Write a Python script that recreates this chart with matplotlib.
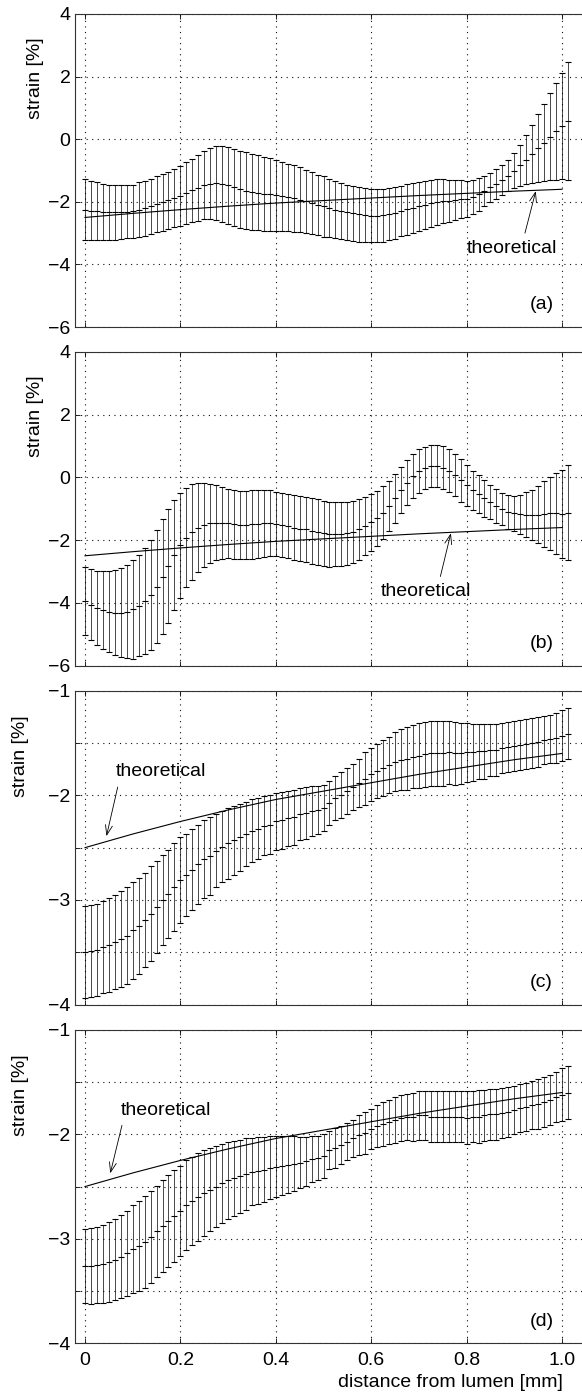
import matplotlib.pyplot as plt
import numpy as np

plt.rcParams['font.family'] = ['Liberation Sans', 'DejaVu Sans']
plt.rcParams['font.size'] = 14
plt.rcParams['axes.unicode_minus'] = True

# sample positions through the wall, 0.0125 mm apart
x = np.arange(82) * 0.0125

# theoretical strain profile
theo_x = [0.0, 0.1, 0.2, 0.3, 0.4, 0.5, 0.6, 0.7, 0.8, 0.9, 1.0]
theo_y = [-2.50, -2.37, -2.25, -2.14, -2.04, -1.96, -1.88, -1.80, -1.73, -1.66, -1.60]

# measured strain: mean and standard deviation per position
mean_a = [-2.25, -2.28, -2.30, -2.32, -2.34, -2.34, -2.33, -2.32, -2.30, -2.25,
          -2.20, -2.15, -2.08, -2.02, -1.95, -1.89, -1.81, -1.72, -1.63, -1.55,
          -1.47, -1.42, -1.40, -1.42, -1.47, -1.54, -1.60, -1.64, -1.68, -1.71,
          -1.74, -1.76, -1.79, -1.83, -1.86, -1.89, -1.94, -1.99, -2.05, -2.10,
          -2.15, -2.20, -2.25, -2.29, -2.34, -2.37, -2.40, -2.43, -2.44, -2.45,
          -2.43, -2.39, -2.35, -2.29, -2.24, -2.19, -2.14, -2.09, -2.05, -2.01,
          -1.98, -1.96, -1.94, -1.92, -1.90, -1.84, -1.76, -1.65, -1.54, -1.43,
          -1.31, -1.17, -1.01, -0.84, -0.65, -0.47, -0.28, -0.11, 0.08, 0.25,
          0.41, 0.58]
sd_a = [0.97, 0.95, 0.92, 0.90, 0.89, 0.88, 0.86, 0.85, 0.85, 0.87,
        0.88, 0.89, 0.90, 0.91, 0.91, 0.93, 0.95, 0.98, 1.01, 1.05,
        1.09, 1.13, 1.17, 1.21, 1.23, 1.23, 1.23, 1.23, 1.22, 1.20,
        1.18, 1.16, 1.13, 1.11, 1.08, 1.06, 1.04, 1.01, 0.99, 0.97,
        0.96, 0.94, 0.92, 0.90, 0.89, 0.88, 0.87, 0.86, 0.85, 0.85,
        0.84, 0.83, 0.83, 0.81, 0.81, 0.80, 0.78, 0.77, 0.75, 0.73,
        0.70, 0.67, 0.64, 0.61, 0.58, 0.54, 0.52, 0.49, 0.47, 0.47,
        0.48, 0.50, 0.56, 0.65, 0.78, 0.92, 1.08, 1.23, 1.39, 1.54,
        1.69, 1.88]

mean_b = [-3.94, -4.06, -4.17, -4.24, -4.29, -4.32, -4.31, -4.28, -4.21, -4.09,
          -3.94, -3.75, -3.49, -3.17, -2.84, -2.48, -2.17, -1.92, -1.74, -1.60,
          -1.51, -1.46, -1.44, -1.45, -1.47, -1.50, -1.52, -1.52, -1.50, -1.48,
          -1.47, -1.46, -1.48, -1.51, -1.55, -1.60, -1.63, -1.66, -1.70, -1.74,
          -1.78, -1.81, -1.82, -1.81, -1.78, -1.73, -1.65, -1.55, -1.43, -1.31,
          -1.12, -0.90, -0.67, -0.41, -0.17, 0.04, 0.20, 0.31, 0.36, 0.36,
          0.31, 0.22, 0.08, -0.09, -0.25, -0.41, -0.53, -0.67, -0.79, -0.91,
          -1.01, -1.10, -1.15, -1.18, -1.19, -1.20, -1.19, -1.17, -1.14, -1.14,
          -1.16, -1.13]
sd_b = [1.09, 1.13, 1.19, 1.24, 1.29, 1.36, 1.43, 1.49, 1.57, 1.62,
        1.70, 1.76, 1.80, 1.83, 1.82, 1.76, 1.68, 1.59, 1.52, 1.42,
        1.34, 1.26, 1.20, 1.14, 1.10, 1.09, 1.09, 1.09, 1.09, 1.08,
        1.07, 1.05, 1.03, 1.02, 1.02, 1.03, 1.04, 1.04, 1.05, 1.04,
        1.04, 1.04, 1.02, 1.01, 1.00, 0.99, 0.97, 0.94, 0.91, 0.89,
        0.84, 0.80, 0.77, 0.74, 0.72, 0.70, 0.69, 0.67, 0.67, 0.68,
        0.69, 0.70, 0.68, 0.68, 0.65, 0.63, 0.62, 0.58, 0.55, 0.53,
        0.51, 0.53, 0.55, 0.61, 0.72, 0.81, 0.91, 1.04, 1.16, 1.29,
        1.40, 1.52]

mean_c = [-3.50, -3.49, -3.48, -3.45, -3.43, -3.40, -3.37, -3.34, -3.29, -3.25,
          -3.19, -3.13, -3.07, -3.00, -2.94, -2.88, -2.81, -2.76, -2.71, -2.66,
          -2.61, -2.58, -2.53, -2.49, -2.46, -2.43, -2.40, -2.37, -2.34, -2.32,
          -2.29, -2.28, -2.25, -2.24, -2.22, -2.21, -2.18, -2.17, -2.15, -2.14,
          -2.12, -2.07, -2.03, -2.00, -1.96, -1.92, -1.88, -1.84, -1.80, -1.77,
          -1.74, -1.71, -1.68, -1.66, -1.65, -1.63, -1.62, -1.61, -1.60, -1.60,
          -1.60, -1.59, -1.60, -1.60, -1.59, -1.59, -1.58, -1.58, -1.57, -1.57,
          -1.55, -1.54, -1.53, -1.52, -1.51, -1.50, -1.49, -1.47, -1.46, -1.45,
          -1.43, -1.41]
sd_c = [0.44, 0.44, 0.44, 0.44, 0.45, 0.45, 0.46, 0.46, 0.46, 0.46,
        0.45, 0.45, 0.44, 0.43, 0.42, 0.42, 0.41, 0.39, 0.39, 0.38,
        0.37, 0.37, 0.35, 0.34, 0.34, 0.33, 0.32, 0.31, 0.30, 0.29,
        0.28, 0.28, 0.27, 0.27, 0.26, 0.26, 0.25, 0.25, 0.24, 0.23,
        0.22, 0.21, 0.21, 0.22, 0.22, 0.22, 0.23, 0.25, 0.25, 0.26,
        0.27, 0.27, 0.28, 0.29, 0.30, 0.30, 0.31, 0.31, 0.31, 0.31,
        0.31, 0.30, 0.30, 0.29, 0.28, 0.27, 0.26, 0.26, 0.25, 0.25,
        0.24, 0.24, 0.24, 0.24, 0.24, 0.24, 0.24, 0.23, 0.23, 0.24,
        0.24, 0.24]

mean_d = [-3.26, -3.26, -3.25, -3.24, -3.22, -3.20, -3.17, -3.14, -3.10, -3.07,
          -3.03, -2.98, -2.93, -2.88, -2.83, -2.78, -2.73, -2.68, -2.64, -2.60,
          -2.56, -2.53, -2.50, -2.47, -2.44, -2.42, -2.40, -2.38, -2.36, -2.35,
          -2.34, -2.32, -2.31, -2.30, -2.29, -2.28, -2.27, -2.26, -2.24, -2.23,
          -2.21, -2.15, -2.13, -2.10, -2.07, -2.04, -2.01, -1.99, -1.95, -1.92,
          -1.90, -1.88, -1.86, -1.84, -1.83, -1.83, -1.82, -1.82, -1.83, -1.83,
          -1.83, -1.83, -1.83, -1.83, -1.84, -1.83, -1.83, -1.82, -1.81, -1.81,
          -1.80, -1.79, -1.77, -1.75, -1.74, -1.72, -1.71, -1.69, -1.67, -1.64,
          -1.62, -1.60]
sd_d = [0.35, 0.36, 0.36, 0.37, 0.38, 0.39, 0.40, 0.41, 0.42, 0.43,
        0.44, 0.44, 0.44, 0.44, 0.44, 0.44, 0.43, 0.43, 0.42, 0.42,
        0.41, 0.40, 0.39, 0.38, 0.37, 0.36, 0.35, 0.34, 0.32, 0.32,
        0.31, 0.30, 0.29, 0.28, 0.27, 0.26, 0.24, 0.23, 0.22, 0.21,
        0.21, 0.18, 0.19, 0.18, 0.18, 0.18, 0.19, 0.20, 0.19, 0.20,
        0.21, 0.21, 0.22, 0.22, 0.22, 0.23, 0.23, 0.23, 0.24, 0.24,
        0.24, 0.24, 0.24, 0.24, 0.25, 0.24, 0.25, 0.24, 0.24, 0.24,
        0.24, 0.24, 0.23, 0.23, 0.23, 0.23, 0.24, 0.24, 0.24, 0.24,
        0.25, 0.25]

xticks = [0, 0.2, 0.4, 0.6, 0.8, 1.0]
xticklabels = ['0', '0.2', '0.4', '0.6', '0.8', '1.0']
yticks_wide = [-6, -4, -2, 0, 2, 4]
yticks_narrow = [-4, -3.5, -3, -2.5, -2, -1.5, -1]
yticklabels_narrow = ['\u22124', '', '\u22123', '', '\u22122', '', '\u22121']

W, H = 582, 1397
fig = plt.figure(figsize=(W / 100, H / 100), dpi=100)

left_px, right_px = 75.3, 590
x0_px, x1_px = 85, 562        # pixel columns of x = 0 and x = 1
xlim = ((left_px - x0_px) / (x1_px - x0_px), (right_px - x0_px) / (x1_px - x0_px))

# per panel: data, label, y range, axes top/bottom (px), ylabel spot (px),
# annotation text centre, arrow tip, arrow start on text box
panels = [
    (mean_a, sd_a, '(a)', (-6, 4), 14, 327, (36, 78),
     (0.894, -3.49), (0.945, -1.66), (0.63, 1.0)),
    (mean_b, sd_b, '(b)', (-6, 4), 352, 665.5, (36, 416.5),
     (0.715, -3.65), (0.767, -1.78), (0.64, 1.0)),
    (mean_c, sd_c, '(c)', (-4, -1), 690.6, 1004.7, (21, 756.5),
     (0.159, -1.775), (0.045, -2.39), (0.04, 0.0)),
    (mean_d, sd_d, '(d)', (-4, -1), 1029.8, 1343.3, (21, 1095),
     (0.170, -1.768), (0.053, -2.373), (0.03, 0.0)),
]

for k, (m, s, tag, ylim, top, bot, ylab, txt, tip, rel) in enumerate(panels):
    ax = fig.add_axes([left_px / W, 1 - bot / H, (right_px - left_px) / W, (bot - top) / H])

    ax.errorbar(x, m, yerr=s, fmt='none', ecolor='k', elinewidth=0.5,
                capsize=2.2, capthick=0.8)
    ax.plot(x, m, linestyle='none', marker='_', markersize=4.4,
            markeredgewidth=0.8, color='k')
    ax.plot(theo_x, theo_y, color='k', linewidth=0.8)

    ax.set_xlim(*xlim)
    ax.set_ylim(*ylim)
    ax.set_xticks(xticks)
    if ylim[0] == -6:
        ax.set_yticks(yticks_wide)
    else:
        ax.set_yticks(yticks_narrow, yticklabels_narrow)

    if k == len(panels) - 1:
        ax.set_xticklabels(xticklabels)
    else:
        ax.set_xticklabels([])

    ax.grid(True, linestyle=(0, (1, 4)), color='#111111', linewidth=0.8)
    ax.tick_params(direction='in', length=3.6, width=0.6, top=True, right=True,
                   labelsize=14)
    ax.tick_params(axis='y', pad=3.5)
    ax.tick_params(axis='x', pad=6)
    for sp in ax.spines.values():
        sp.set_linewidth(0.8)
        sp.set_color('#333333')

    ax.text(0.906, 0.071, tag, transform=ax.transAxes, ha='center', va='center',
            fontsize=14)

    ax.annotate('theoretical', xy=tip, xytext=txt, ha='center', va='center',
                fontsize=14,
                arrowprops=dict(arrowstyle='->,head_length=0.5,head_width=0.18',
                                color='k', linewidth=0.6, relpos=rel,
                                shrinkA=3, shrinkB=0))

    fig.text(ylab[0] / W, 1 - ylab[1] / H, 'strain [%]', rotation=90,
             ha='center', va='center', fontsize=14)

fig.text(450 / W, 1 - 1382.5 / H, 'distance from lumen [mm]', ha='center',
         va='center', fontsize=14)

fig.savefig('out.png', dpi=100, facecolor='white')
